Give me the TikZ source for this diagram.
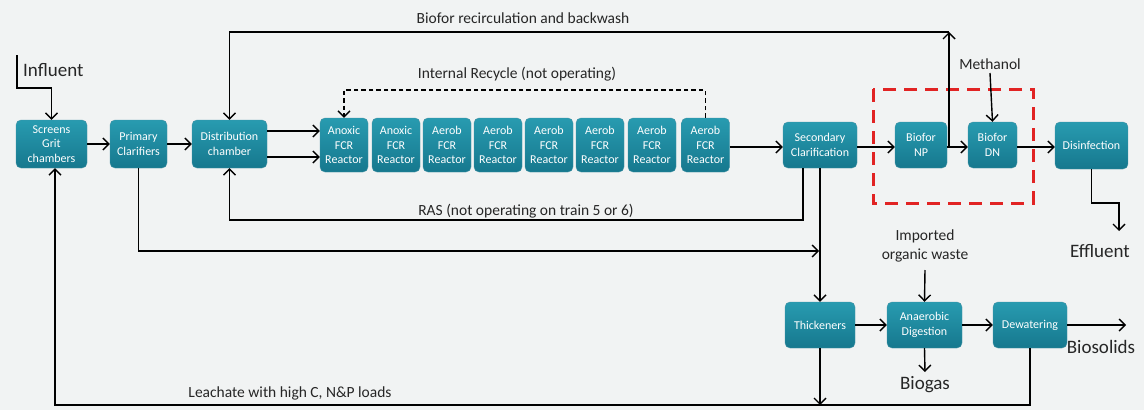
\documentclass[tikz,border=0pt]{standalone}
\usepackage{fontspec}
\setmainfont{Carlito}
\usetikzlibrary{arrows.meta}
\definecolor{bg}{RGB}{241,243,243}
\definecolor{boxtop}{RGB}{40,155,176}
\definecolor{boxbot}{RGB}{22,120,142}
\definecolor{dred}{RGB}{225,35,35}
\tikzset{
  box/.style={rounded corners=5pt, top color=boxtop, bottom color=boxbot, draw=boxbot!80!white, line width=0.4pt,
    text=white, font=\fontsize{12}{14.5}\selectfont, align=center, inner sep=0pt},
  flow/.style={line width=1.4pt, -{Straight Barb[length=6pt,width=12pt,line width=1.4pt]}},
  lbl/.style={font=\fontsize{15.5}{19}\selectfont, text=black!85, align=center, inner sep=0pt},
  big/.style={font=\fontsize{19}{21}\selectfont, text=black!85, inner sep=0pt},
}
\begin{document}
\begin{tikzpicture}[x=1pt,y=-1pt]
\fill[bg] (0,0) rectangle (1144,410);
\useasboundingbox (0,0) rectangle (1144,410);

% main boxes
\node[box, minimum width=71pt, minimum height=48pt] (scr) at (51.5,144) {Screens\\Grit\\chambers};
\node[box, minimum width=57pt, minimum height=48pt] (pc) at (138.5,144) {Primary\\Clarifiers};
\node[box, minimum width=75pt, minimum height=48pt] (dc) at (229.5,144) {Distribution\\chamber};
\node[box, minimum width=48pt, minimum height=54pt] (r1) at (344,145) {Anoxic\\FCR\\Reactor};
\node[box, minimum width=48pt, minimum height=54pt] (r2) at (396,145) {Anoxic\\FCR\\Reactor};
\node[box, minimum width=48pt, minimum height=54pt] (r3) at (447,145) {Aerob\\FCR\\Reactor};
\node[box, minimum width=48pt, minimum height=54pt] (r4) at (498,145) {Aerob\\FCR\\Reactor};
\node[box, minimum width=48pt, minimum height=54pt] (r5) at (549,145) {Aerob\\FCR\\Reactor};
\node[box, minimum width=48pt, minimum height=54pt] (r6) at (600,145) {Aerob\\FCR\\Reactor};
\node[box, minimum width=48pt, minimum height=54pt] (r7) at (652,145) {Aerob\\FCR\\Reactor};
\node[box, minimum width=48pt, minimum height=54pt] (r8) at (705.5,145) {Aerob\\FCR\\Reactor};
\node[box, minimum width=74pt, minimum height=46pt] (sc) at (820,145) {Secondary\\Clarification};
\node[box, minimum width=52pt, minimum height=46pt] (np) at (921,145) {Biofor\\NP};
\node[box, minimum width=49pt, minimum height=46pt] (dn) at (992.5,145) {Biofor\\DN};
\node[box, minimum width=73pt, minimum height=47pt] (dis) at (1091.5,145.5) {Disinfection};
\node[box, minimum width=70pt, minimum height=46pt] (th) at (820,325) {Thickeners};
\node[box, minimum width=75pt, minimum height=46pt] (ad) at (924.5,325) {Anaerobic\\Digestion};
\node[box, minimum width=74pt, minimum height=46pt] (dw) at (1030,325) {Dewatering};

% red dashed box
\draw[dred, line width=3pt, dash pattern=on 13pt off 8pt] (873,89) rectangle (1033,203);

% labels
\node[big, anchor=west] (linf) at (23,70) {Influent};
\node[lbl] (lrec) at (523,18) {Biofor recirculation and backwash};
\node[lbl] (lir) at (517,74) {Internal Recycle (not operating)};
\node[lbl] (lmeth) at (990,64) {Methanol};
\node[lbl] (lras) at (526,211) {RAS (not operating on train 5 or 6)};
\node[lbl] (limp) at (925,246) {Imported\\organic waste};
\node[big] (leff) at (1100,251) {Effluent};
\node[big] (lbios) at (1101,347) {Biosolids};
\node[big] (lbiog) at (925,385) {Biogas};
\node[lbl] (lleach) at (290,393) {Leachate with high C, N\&P loads};

% coordinates
\coordinate (inf0) at (17,55);
\coordinate (rc) at (949,147);
\coordinate (rctop) at (949,32);
\coordinate (effend) at (1119,231);
\coordinate (bsend) at (1126,325);
\coordinate (bgend) at (925,372);
\coordinate (thend) at (820,405);
\coordinate (methtop) at (990,73);
\coordinate (imptop) at (925,270);
\coordinate (pstop) at (819,251);
\coordinate (lch) at (55,405);

% influent
\draw[flow] (inf0) -- (17,88) -- (scr.north |- 0,88) -- (scr.north);
% main line
\draw[flow] (scr.east) -- (pc.west);
\draw[flow] (pc.east) -- (dc.west);
\draw[flow] (dc.east |- 0,131) -- (r1.west |- 0,131);
\draw[flow] (dc.east |- 0,157) -- (r1.west |- 0,157);
\draw[flow] (r8.east |- 0,147) -- (sc.west |- 0,147);
\draw[flow] (sc.east |- 0,147) -- (np.west |- 0,147);
\draw[flow] (np.east |- 0,147) -- (dn.west |- 0,147);
\draw[flow] (dn.east |- 0,147) -- (dis.west |- 0,147);
% internal recycle
\draw[line width=1.3pt, dash pattern=on 4.5pt off 3pt, -{Straight Barb[length=6pt,width=12pt,line width=1.3pt]}]
  (r8.north) -- (r8.north |- 0,90) -- (r1.north |- 0,90) -- (r1.north);
% biofor recirculation
\draw[flow] (rc) -- (rctop);
\draw[flow] (rctop) -- (dc.north |- rctop) -- (dc.north);
% methanol
\draw[flow] (methtop) -- (dn.north);
% effluent
\draw[flow] (dis.south) -- (dis.south |- 0,203) -- (effend |- 0,203) -- (effend);
% RAS
\draw[flow] ([xshift=-17pt]sc.south) -- ([xshift=-17pt]sc.south |- 0,220) -- (dc.south |- 0,220) -- (dc.south);
% primary sludge
\draw[flow] (pc.south) -- (pc.south |- pstop) -- (pstop);
% secondary to thickeners
\draw[flow] (sc.south) -- (th.north);
% solids line
\draw[flow] (th.east) -- (ad.west);
\draw[flow] (ad.east) -- (dw.west);
\draw[flow] (dw.east) -- (bsend);
\draw[flow] (imptop) -- (ad.north);
\draw[flow] (ad.south) -- (bgend);
\draw[flow] (th.south) -- (thend);
% leachate
\draw[flow] (dw.south) -- (dw.south |- lch) -- (lch) -- (lch |- scr.south);
\end{tikzpicture}
\end{document}
